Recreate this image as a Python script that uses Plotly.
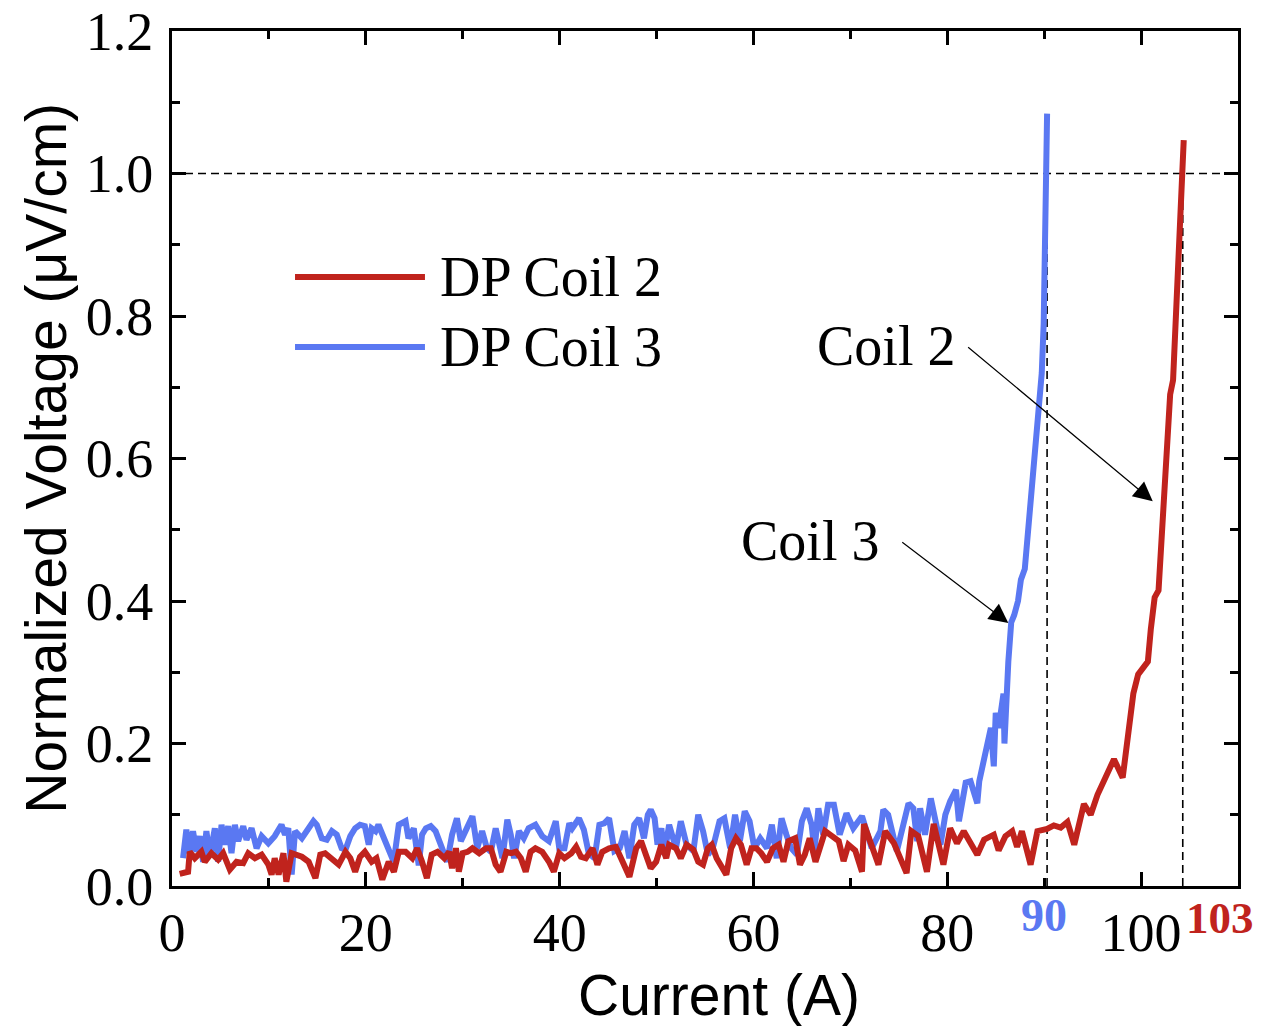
import plotly.graph_objects as go

# ---------------- data ----------------
coil3_current = [
    1.14, 1.48, 1.83, 2.17, 2.52, 2.86, 3.21, 3.55, 3.90, 4.42,
    4.76, 5.11, 5.45, 5.80, 6.14, 6.49, 6.83, 7.35, 7.69, 8.21,
    8.73, 9.25, 9.94, 10.6, 11.3, 11.66, 12.0, 12.35, 12.7, 13.4,
    14.1, 14.6, 14.94, 15.46, 15.97, 16.5, 17.0, 17.5, 17.9, 18.4,
    18.9, 19.4, 19.9, 20.3, 20.6, 21.0, 21.3,
    22.36, 22.88, 23.4, 24.1, 24.4, 24.95, 25.46, 25.8, 26.2, 26.7,
    27.2, 27.9, 28.4, 28.9, 29.4, 29.8, 30.1, 30.5, 31.0, 31.5,
    32.0, 32.5, 32.9, 33.4, 34.1, 34.6, 34.96, 35.3, 35.8, 36.3,
    36.8, 37.5, 38.2, 38.9, 39.6, 39.96, 40.5, 41.0, 41.3, 42.0,
    42.5, 43.0, 43.6, 44.1, 44.6, 45.1,
    45.65, 46.2, 46.7, 47.2, 47.7, 48.2, 48.7, 49.1, 49.4, 49.8,
    50.1, 50.5, 50.8, 51.3, 52.0, 52.5, 53.1, 53.8, 54.3, 54.8,
    55.3, 55.8, 56.5, 57.0, 57.6, 58.1, 58.6, 59.1, 59.6, 60.1,
    60.7, 61.4, 61.9, 62.4, 62.9, 63.4, 63.9, 64.5, 65.0, 65.5,
    66.0, 66.3, 66.7, 67.2, 67.7,
    68.3, 68.9, 69.6, 70.3, 71.2, 72.2, 73.1, 73.4, 73.9, 74.8,
    76.0, 76.5, 76.9, 77.2, 77.7, 78.3, 79.3, 79.8, 80.3, 80.9,
    81.2, 81.9, 82.4, 83.1, 83.3, 84.0, 84.5, 84.8, 85.0, 85.3,
    85.6, 85.8, 85.9, 86.1, 86.3, 86.6, 86.9, 87.3, 87.6, 88.0,
    88.5, 89.0, 89.5, 89.75, 89.95, 90.15, 90.2, 90.3,
]
coil3_voltage = [
    0.039, 0.079, 0.046, 0.077, 0.048, 0.070, 0.034, 0.077, 0.041, 0.081,
    0.034, 0.086, 0.058, 0.084, 0.046, 0.086, 0.063, 0.084, 0.065, 0.081,
    0.053, 0.070, 0.060, 0.070, 0.086, 0.072, 0.081, 0.016, 0.077, 0.067,
    0.081, 0.091, 0.086, 0.067, 0.065, 0.077, 0.072, 0.053, 0.051, 0.070,
    0.081, 0.086, 0.084, 0.058, 0.081, 0.077, 0.086,
    0.049, 0.034, 0.086, 0.091, 0.067, 0.081, 0.029, 0.072, 0.081, 0.084,
    0.077, 0.053, 0.034, 0.072, 0.095, 0.063, 0.072, 0.086, 0.098, 0.053,
    0.077, 0.053, 0.048, 0.081, 0.039, 0.093, 0.072, 0.039, 0.077, 0.067,
    0.081, 0.086, 0.070, 0.063, 0.091, 0.053, 0.053, 0.088, 0.081, 0.095,
    0.079, 0.046, 0.039, 0.086, 0.088, 0.095,
    0.049, 0.053, 0.077, 0.039, 0.086, 0.095, 0.067, 0.100, 0.107, 0.095,
    0.058, 0.081, 0.044, 0.086, 0.053, 0.091, 0.058, 0.049, 0.100, 0.077,
    0.044, 0.053, 0.091, 0.095, 0.053, 0.100, 0.063, 0.105, 0.091, 0.053,
    0.067, 0.053, 0.086, 0.039, 0.095, 0.072, 0.053, 0.044, 0.091, 0.109,
    0.086, 0.049, 0.109, 0.072, 0.114,
    0.114, 0.072, 0.102, 0.081, 0.098, 0.053, 0.077, 0.107, 0.100, 0.049,
    0.116, 0.109, 0.063, 0.109, 0.072, 0.123, 0.058, 0.100, 0.119, 0.135,
    0.091, 0.145, 0.147, 0.116, 0.147, 0.194, 0.222, 0.168, 0.243, 0.222,
    0.25, 0.27, 0.20, 0.28, 0.315, 0.37, 0.38, 0.40, 0.43, 0.445,
    0.52, 0.60, 0.68, 0.72, 0.79, 0.944, 1.0, 1.084,
]

coil2_current = [
    0.79, 1.66, 1.83, 2.35, 3.03, 3.38, 4.07, 4.76, 5.28, 5.97,
    6.66, 7.35, 7.87, 8.56, 9.25, 9.94, 10.28, 10.6, 11.0, 11.5,
    11.8, 12.35, 13.4, 14.1, 14.8, 15.3, 15.8, 16.5, 17.2, 17.9,
    18.4, 18.9, 19.4, 19.9, 20.6, 21.1, 21.7,
    22.36, 22.9, 23.4, 24.1, 24.8, 25.3, 25.8, 26.3, 26.8, 27.4,
    28.1, 28.6, 28.9, 29.3, 29.6, 30.0, 30.5, 31.0, 31.7, 32.4,
    32.9, 33.4, 33.9, 34.5, 35.0, 35.5, 36.0, 36.5, 37.0, 37.5,
    38.2, 38.9, 39.4, 39.96, 40.5, 41.2, 41.7, 42.2, 42.7, 43.4,
    43.9, 44.4, 45.1,
    45.8, 46.5, 47.2, 47.9, 48.4, 48.9, 49.4, 49.96, 50.5, 51.0,
    51.3, 52.0, 52.5, 53.1, 53.8, 54.3, 54.8, 55.3, 55.7, 56.2,
    57.2, 57.7, 58.2, 58.7, 59.3, 59.8, 60.3, 60.8, 61.4, 62.0,
    62.6, 63.1, 63.6, 64.3, 64.8, 65.3, 65.8, 66.4, 66.9, 67.4,
    67.9,
    68.8, 69.3, 69.8, 70.5, 71.2, 71.4, 72.1, 72.9, 73.6, 74.5,
    75.8, 76.3, 77.0, 77.9, 78.6, 79.6, 80.3, 81.0, 81.7, 82.4,
    83.1, 83.8, 84.8, 85.3, 86.0, 86.7, 87.2, 87.7, 88.6, 89.3,
    90.3, 91.0, 91.7, 92.4, 93.1, 94.1, 94.8, 95.5, 96.5, 97.2,
    98.1, 98.6, 99.2, 99.7, 100.2, 100.7, 101.0, 101.4, 101.8, 102.2,
    102.6, 103.0, 103.3, 103.8, 104.3, 104.4,
]
coil2_voltage = [
    0.017, 0.020, 0.048, 0.039, 0.048, 0.034, 0.046, 0.037, 0.046, 0.023,
    0.034, 0.032, 0.046, 0.039, 0.044, 0.030, 0.016, 0.039, 0.016, 0.046,
    0.006, 0.046, 0.041, 0.034, 0.011, 0.044, 0.046, 0.037, 0.030, 0.048,
    0.039, 0.020, 0.041, 0.048, 0.034, 0.039, 0.009,
    0.034, 0.020, 0.048, 0.048, 0.039, 0.053, 0.034, 0.011, 0.044, 0.048,
    0.039, 0.048, 0.025, 0.053, 0.020, 0.046, 0.048, 0.053, 0.046, 0.053,
    0.053, 0.030, 0.020, 0.048, 0.046, 0.048, 0.039, 0.020, 0.048, 0.053,
    0.048, 0.034, 0.020, 0.046, 0.039, 0.046, 0.055, 0.041, 0.039, 0.053,
    0.030, 0.048, 0.053,
    0.055, 0.034, 0.013, 0.053, 0.063, 0.044, 0.025, 0.034, 0.058, 0.039,
    0.058, 0.053, 0.039, 0.058, 0.051, 0.034, 0.030, 0.053, 0.058, 0.039,
    0.016, 0.053, 0.067, 0.058, 0.030, 0.053, 0.053, 0.046, 0.034, 0.053,
    0.058, 0.034, 0.063, 0.067, 0.030, 0.044, 0.067, 0.034, 0.053, 0.077,
    0.072,
    0.063, 0.035, 0.058, 0.050, 0.020, 0.087, 0.060, 0.030, 0.077, 0.060,
    0.018, 0.077, 0.070, 0.020, 0.087, 0.030, 0.081, 0.060, 0.077, 0.060,
    0.044, 0.065, 0.072, 0.050, 0.070, 0.077, 0.055, 0.077, 0.030, 0.077,
    0.080, 0.085, 0.082, 0.090, 0.058, 0.115, 0.100, 0.128, 0.157, 0.178,
    0.152, 0.213, 0.27, 0.297, 0.305, 0.315, 0.36, 0.405, 0.415, 0.52,
    0.60, 0.69, 0.71, 0.85, 1.0, 1.047,
]

series_names = ["DP Coil 2", "DP Coil 3"]
criterion = 1.0               # uV/cm
ic_coil3 = 90.3               # dashed marker position, coil 3
ic_coil2 = 104.3              # dashed marker position, coil 2
ic_labels = ["90", "103"]
x_ticks = [0, 20, 40, 60, 80, 100]
y_ticks = [0.0, 0.2, 0.4, 0.6, 0.8, 1.0, 1.2]

RED = "#C0231D"
BLUE = "#5A78F2"
SERIF = "Liberation Serif"
SANS = "Liberation Sans"
LW = 6

fig = go.Figure()
fig.add_trace(go.Scatter(x=coil3_current, y=coil3_voltage, mode="lines",
                         line=dict(color=BLUE, width=LW), name=series_names[1],
                         showlegend=False))
fig.add_trace(go.Scatter(x=coil2_current, y=coil2_voltage, mode="lines",
                         line=dict(color=RED, width=LW), name=series_names[0],
                         showlegend=False))

dash = dict(color="black", width=1.6, dash="8px,5px")
fig.add_shape(type="line", xref="x", yref="y", x0=0, x1=110, y0=criterion, y1=criterion, line=dash, layer="below")
fig.add_shape(type="line", xref="x", yref="y", x0=ic_coil3, x1=ic_coil3, y0=0, y1=criterion, line=dash, layer="below")
fig.add_shape(type="line", xref="x", yref="y", x0=ic_coil2, x1=ic_coil2, y0=0, y1=criterion, line=dash, layer="below")

# manual legend (long line samples)
for yp, col, name in [(0.7123, RED, series_names[0]), (0.6304, BLUE, series_names[1])]:
    fig.add_shape(type="line", xref="paper", yref="paper", x0=0.1154, x1=0.2373,
                  y0=yp, y1=yp, line=dict(color=col, width=LW))
    fig.add_annotation(xref="paper", yref="paper", x=0.2495, y=yp, text=name,
                       showarrow=False, xanchor="left", yanchor="middle",
                       font=dict(family=SERIF, size=56, color="black"))

# labels with arrows
fig.add_annotation(x=73.7, y=0.758, text="Coil 2", showarrow=False,
                   font=dict(family=SERIF, size=56, color="black"))
fig.add_annotation(x=65.8, y=0.484, text="Coil 3", showarrow=False,
                   font=dict(family=SERIF, size=56, color="black"))
fig.add_annotation(x=101.2, y=0.540, ax=82.0, ay=0.758, axref="x", ayref="y",
                   text="", showarrow=True, arrowhead=2, arrowsize=3.2,
                   arrowwidth=1.2, arrowcolor="black")
fig.add_annotation(x=86.3, y=0.369, ax=75.2, ay=0.484, axref="x", ayref="y",
                   text="", showarrow=True, arrowhead=2, arrowsize=3.2,
                   arrowwidth=1.2, arrowcolor="black")

# Ic labels below axis
fig.add_annotation(x=90, xref="x", y=-0.034, yref="paper", text="<b>%s</b>" % ic_labels[0],
                   showarrow=False, yanchor="middle",
                   font=dict(family=SERIF, size=46, color=BLUE))
fig.add_annotation(x=108.1, xref="x", y=-0.037, yref="paper", text="<b>%s</b>" % ic_labels[1],
                   showarrow=False, yanchor="middle",
                   font=dict(family=SERIF, size=45, color=RED))

# axis titles
fig.add_annotation(xref="paper", yref="paper", x=0.513, y=-0.1275, text="Current (A)",
                   showarrow=False, yanchor="middle",
                   font=dict(family=SANS, size=57, color="black"))
fig.add_annotation(xref="paper", yref="paper", x=-0.119, y=0.50,
                   text="Normalized Voltage (μV/cm)", textangle=-90,
                   showarrow=False, xanchor="center", yanchor="middle",
                   font=dict(family=SANS, size=57, color="black"))

axis_common = dict(showgrid=False, zeroline=False, showline=True, linecolor="black",
                   linewidth=3, mirror="ticks", ticks="inside", tickcolor="black",
                   tickwidth=3, ticklen=14, automargin=False, ticklabeloverflow="allow",
                   minor=dict(ticks="inside", ticklen=8, tickwidth=3, tickcolor="black"),
                   tickfont=dict(family=SERIF, size=54, color="black"))

fig.update_xaxes(range=[0, 110], tickvals=x_ticks, ticktext=[str(v) for v in x_ticks],
                 minor_dtick=10, minor_tick0=0, ticklabelstandoff=-3, **axis_common)
fig.update_yaxes(range=[0, 1.2], tickvals=y_ticks, ticktext=["%.1f" % v for v in y_ticks],
                 minor_dtick=0.1, minor_tick0=0, ticklabelstandoff=5, **axis_common)

# the page body adds an 8px offset; size the figure so the plot area lands where the reference has it
fig.update_layout(width=1276, height=1018, plot_bgcolor="white", paper_bgcolor="white",
                  margin=dict(l=164, r=46, t=23, b=140, autoexpand=False), showlegend=False)

fig.write_html("out.html")
